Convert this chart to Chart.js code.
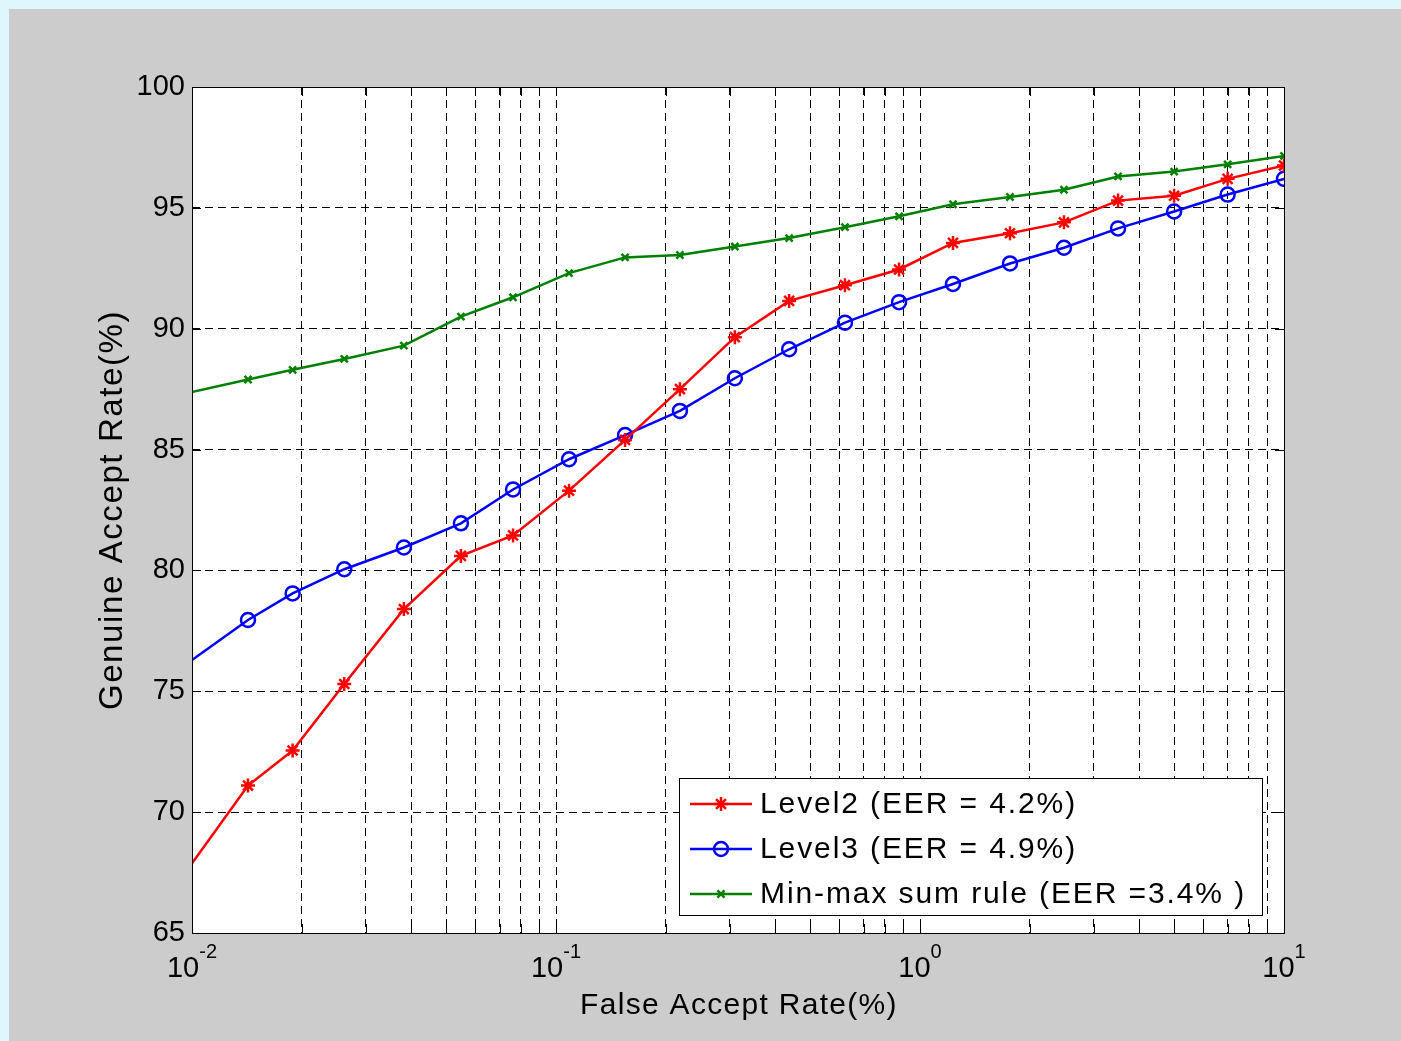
<!DOCTYPE html>
<html lang="en">
<head>
<meta charset="UTF-8">
<title>Genuine Accept Rate vs False Accept Rate</title>
<style>
  html,body{margin:0;padding:0;background:#dff6fc;}
  #wrap{width:1401px;height:1041px;position:relative;}
  canvas{display:block;}
</style>
</head>
<body>
<div id="wrap"><canvas id="roc" width="1401" height="1041"></canvas></div>

<script src="https://cdn.jsdelivr.net/npm/chart.js@4.4.1"></script>
<script>
/* ---------- data ---------- */
const far = [0.0098, 0.01425, 0.0189, 0.0262, 0.0382, 0.0548, 0.0762, 0.1086, 0.1548, 0.219,
             0.31, 0.437, 0.622, 0.876, 1.232, 1.767, 2.486, 3.5, 4.99, 7.0, 10];
const level2 = [67.7, 71.1, 72.55, 75.3, 78.4, 80.6, 81.45, 83.3, 85.4, 87.5,
                89.65, 91.15, 91.8, 92.45, 93.55, 93.95, 94.4, 95.3, 95.5, 96.2, 96.75];
const level3 = [76.2, 77.95, 79.05, 80.05, 80.95, 81.95, 83.35, 84.6, 85.6, 86.6,
                87.95, 89.15, 90.25, 91.1, 91.85, 92.7, 93.35, 94.15, 94.85, 95.55, 96.2];
const minmax = [87.35, 87.9, 88.3, 88.75, 89.3, 90.5, 91.3, 92.3, 92.95, 93.05,
                93.4, 93.75, 94.2, 94.65, 95.15, 95.45, 95.75, 96.3, 96.5, 96.8, 97.15];
const seriesNames = ['Level2 (EER = 4.2%)', 'Level3 (EER = 4.9%)', 'Min-max sum rule (EER =3.4% )'];
const yTicks = [65, 70, 75, 80, 85, 90, 95, 100];
const xDecades = [0.01, 0.1, 1, 10];
const xExponents = ['-2', '-1', '0', '1'];

/* minor + major grid positions on the log axis */
const xGrid = [];
[0.01, 0.1, 1].forEach(d => { for (let m = 1; m < 10; m++) xGrid.push(+(m * d).toPrecision(3)); });
xGrid.push(10);

const FONT = '"Liberation Sans", Arial, sans-serif';
const pts = ys => far.map((x, i) => ({x: x, y: ys[i]}));
const firstHidden = r => far.map((x, i) => i === 0 ? 0 : r);

/* ---------- background / frame / labels / legend ---------- */
const matlabLook = {
  id: 'matlabLook',
  beforeDraw(chart){
    const {ctx, chartArea: a} = chart;
    ctx.save();
    ctx.fillStyle = '#dff6fc';
    ctx.fillRect(0, 0, chart.width, chart.height);
    ctx.fillStyle = '#cccccc';
    ctx.fillRect(9, 9, chart.width - 9, chart.height - 9);
    ctx.fillStyle = '#ffffff';
    ctx.fillRect(a.left, a.top, a.right - a.left, a.bottom - a.top);
    ctx.restore();
  },
  afterDraw(chart){
    const {ctx, chartArea: a, scales: {x, y}} = chart;
    ctx.save();
    ctx.strokeStyle = '#000';
    ctx.lineWidth = 1;

    /* inward ticks */
    ctx.beginPath();
    xGrid.forEach(v => {
      const px = Math.round(x.getPixelForValue(v)) + 0.5;
      ctx.moveTo(px, a.bottom); ctx.lineTo(px, a.bottom - 9);
      ctx.moveTo(px, a.top); ctx.lineTo(px, a.top + 9);
    });
    yTicks.forEach(v => {
      const py = Math.round(y.getPixelForValue(v)) + 0.5;
      ctx.moveTo(a.left, py); ctx.lineTo(a.left + 9, py);
      ctx.moveTo(a.right, py); ctx.lineTo(a.right - 9, py);
    });
    ctx.stroke();

    /* axes box */
    ctx.strokeRect(Math.round(a.left) + 0.5, Math.round(a.top) + 0.5,
                   Math.round(a.right - a.left), Math.round(a.bottom - a.top));

    /* y tick labels */
    ctx.fillStyle = '#000';
    ctx.font = '29px ' + FONT;
    ctx.textAlign = 'right';
    ctx.textBaseline = 'middle';
    yTicks.forEach(v => ctx.fillText(String(v), a.left - 7, y.getPixelForValue(v)));

    /* x tick labels 10^n */
    ctx.textAlign = 'left';
    ctx.textBaseline = 'alphabetic';
    xDecades.forEach((v, i) => {
      ctx.font = '29px ' + FONT;
      const w1 = ctx.measureText('10').width;
      ctx.font = '20px ' + FONT;
      const w2 = ctx.measureText(xExponents[i]).width;
      const x0 = x.getPixelForValue(v) - (w1 + w2) / 2;
      ctx.font = '29px ' + FONT;
      ctx.fillText('10', x0, a.bottom + 44);
      ctx.font = '20px ' + FONT;
      ctx.fillText(xExponents[i], x0 + w1, a.bottom + 25);
    });

    /* axis titles */
    ctx.textAlign = 'center';
    ctx.textBaseline = 'middle';
    ctx.font = '30px ' + FONT;
    ctx.letterSpacing = '1.3px';
    ctx.fillText('False Accept Rate(%)', (a.left + a.right) / 2 + 1, a.bottom + 73);
    ctx.save();
    ctx.translate(113, (a.top + a.bottom) / 2);
    ctx.rotate(-Math.PI / 2);
    ctx.font = '33px ' + FONT;
    ctx.letterSpacing = '1.6px';
    ctx.fillText('Genuine Accept Rate(%)', 0, 0);
    ctx.restore();

    /* legend */
    ctx.letterSpacing = '0px';
    ctx.fillStyle = '#fff';
    ctx.fillRect(679.5, 778.5, 583, 137);
    ctx.strokeStyle = '#000';
    ctx.lineWidth = 1;
    ctx.strokeRect(679.5, 778.5, 583, 137);
    const rows = [804, 849, 894];
    chart.data.datasets.forEach((ds, i) => {
      const ry = rows[i];
      ctx.strokeStyle = ds.borderColor;
      ctx.lineWidth = 2.5;
      ctx.beginPath();
      ctx.moveTo(690, ry); ctx.lineTo(752, ry);
      ctx.stroke();
      ctx.fillStyle = 'rgba(0,0,0,0)';
      Chart.helpers.drawPoint(ctx, {pointStyle: ds.pointStyle, radius: ds.legendRadius,
                                    borderWidth: 2.5, rotation: 0}, 721, ry);
      ctx.fillStyle = '#000';
      ctx.font = '30px ' + FONT;
      ctx.letterSpacing = '1.9px';
      ctx.textAlign = 'left';
      ctx.textBaseline = 'middle';
      ctx.fillText(ds.label, 760, ry + 1);
      ctx.letterSpacing = '0px';
    });
    ctx.restore();
  }
};

/* ---------- build chart ---------- */
new Chart(document.getElementById('roc'), {
  type: 'line',
  data: {
    datasets: [
      {label: seriesNames[0], data: pts(level2), borderColor: '#ff0000', pointStyle: 'star',
       pointRadius: firstHidden(7), legendRadius: 7},
      {label: seriesNames[1], data: pts(level3), borderColor: '#0000ff', pointStyle: 'circle',
       pointRadius: firstHidden(7), legendRadius: 7},
      {label: seriesNames[2], data: pts(minmax), borderColor: '#008000', pointStyle: 'crossRot',
       pointRadius: firstHidden(5), legendRadius: 5}
    ]
  },
  options: {
    responsive: false,
    animation: false,
    devicePixelRatio: 1,
    layout: {padding: {left: 192, top: 87, right: 117, bottom: 108}},
    elements: {
      line: {borderWidth: 2.5, tension: 0, fill: false},
      point: {borderWidth: 2.5, hoverRadius: 7, backgroundColor: 'rgba(0,0,0,0)'}
    },
    datasets: {line: {pointBackgroundColor: 'rgba(0,0,0,0)'}},
    plugins: {legend: {display: false}, tooltip: {enabled: false}},
    scales: {
      x: {
        type: 'logarithmic', min: 0.01, max: 10,
        afterBuildTicks: s => { s.ticks = xGrid.map(v => ({value: v})); },
        ticks: {display: false},
        grid: {color: '#000', lineWidth: 1, drawTicks: false},
        border: {display: false, dash: [8, 5]}
      },
      y: {
        type: 'linear', min: 65, max: 100,
        afterBuildTicks: s => { s.ticks = yTicks.map(v => ({value: v})); },
        ticks: {display: false},
        grid: {color: '#000', lineWidth: 1, drawTicks: false},
        border: {display: false, dash: [8, 5]}
      }
    }
  },
  plugins: [matlabLook]
});
</script>
</body>
</html>
